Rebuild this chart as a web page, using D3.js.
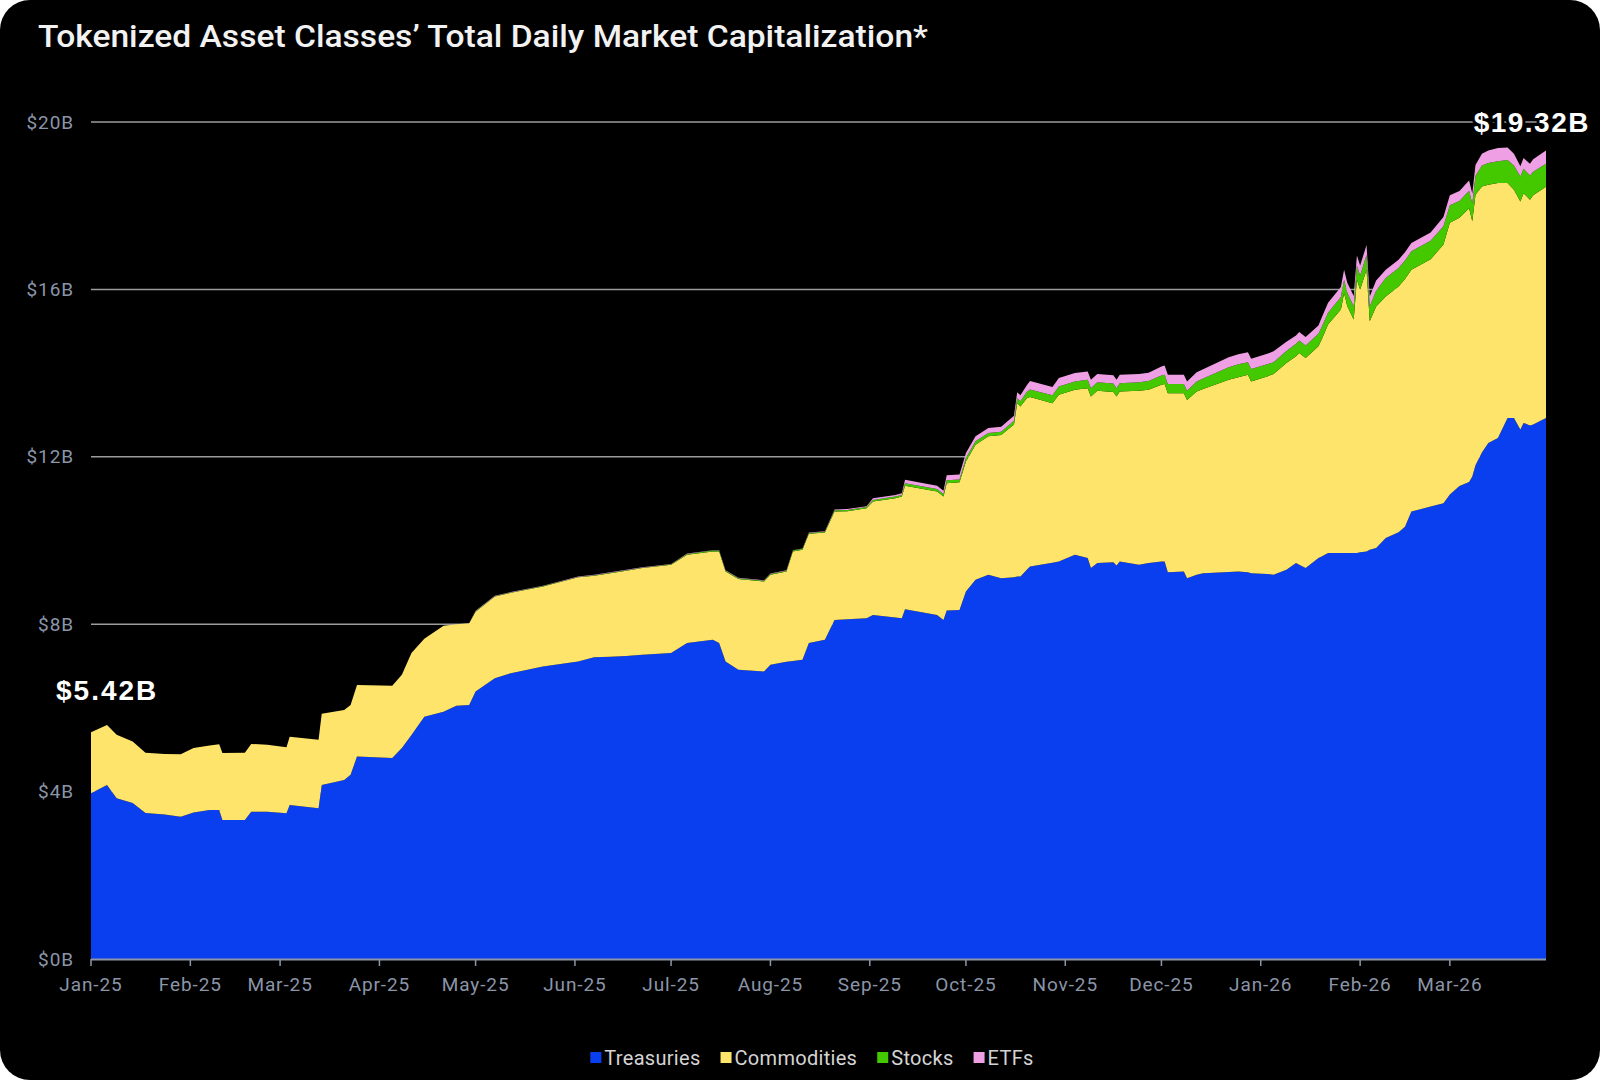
<!DOCTYPE html>
<html lang="en">
<head>
<meta charset="UTF-8">
<title>Tokenized Asset Classes' Total Daily Market Capitalization</title>
<script src="https://d3js.org/d3.v7.min.js"></script>
<style>
  body { margin: 0; background: #fff; }
  svg { display: block; }
  .tick-label { font-family: Roboto, "Noto Sans", sans-serif; font-size: 19px; fill: #8b95a8; letter-spacing: 0.9px; }
</style>
</head>
<body>
<script>
// values in $B
const dates = [
  "2025-01-01","2025-01-06","2025-01-09","2025-01-14","2025-01-18","2025-01-24","2025-01-29","2025-02-02","2025-02-07","2025-02-10",
  "2025-02-11","2025-02-18","2025-02-20","2025-02-25","2025-03-03","2025-03-04","2025-03-13","2025-03-14","2025-03-21","2025-03-23",
  "2025-03-25","2025-04-05","2025-04-08","2025-04-11","2025-04-15","2025-04-21","2025-04-25","2025-04-29","2025-05-01","2025-05-07",
  "2025-05-12","2025-05-22","2025-06-02","2025-06-07","2025-06-12","2025-06-17","2025-06-22","2025-07-01","2025-07-06","2025-07-14",
  "2025-07-16","2025-07-18","2025-07-22","2025-07-30","2025-08-01","2025-08-06","2025-08-08","2025-08-11","2025-08-13","2025-08-18",
  "2025-08-21","2025-08-25","2025-08-31","2025-09-02","2025-09-09","2025-09-11","2025-09-12","2025-09-22","2025-09-24","2025-09-25",
  "2025-09-29","2025-10-01","2025-10-04","2025-10-08","2025-10-12","2025-10-16","2025-10-17","2025-10-18","2025-10-20","2025-10-21",
  "2025-10-28","2025-10-30","2025-11-04","2025-11-08","2025-11-09","2025-11-11","2025-11-16","2025-11-17","2025-11-18","2025-11-24",
  "2025-11-27","2025-12-01","2025-12-02","2025-12-03","2025-12-08","2025-12-09","2025-12-12","2025-12-14","2025-12-22","2025-12-25",
  "2025-12-28","2025-12-29","2026-01-03","2026-01-05","2026-01-09","2026-01-12","2026-01-13","2026-01-15","2026-01-19","2026-01-20",
  "2026-01-22","2026-01-26","2026-01-27","2026-01-28","2026-01-30","2026-01-31","2026-02-01","2026-02-03","2026-02-04","2026-02-06",
  "2026-02-09","2026-02-13","2026-02-15","2026-02-17","2026-02-23","2026-02-27","2026-03-01","2026-03-04","2026-03-07","2026-03-08",
  "2026-03-09","2026-03-11","2026-03-13","2026-03-16","2026-03-19","2026-03-21","2026-03-23","2026-03-24","2026-03-26","2026-03-27",
  "2026-03-31"
];

const treasuries = [
  3.96,4.16,3.84,3.73,3.49,3.45,3.40,3.50,3.56,3.56,
  3.32,3.32,3.52,3.52,3.48,3.68,3.60,4.16,4.28,4.40,
  4.84,4.80,5.04,5.35,5.79,5.91,6.05,6.07,6.39,6.71,
  6.83,6.99,7.11,7.21,7.22,7.24,7.27,7.31,7.55,7.63,
  7.55,7.11,6.91,6.87,7.03,7.10,7.12,7.15,7.55,7.63,
  8.10,8.12,8.14,8.22,8.16,8.14,8.36,8.22,8.10,8.33,
  8.34,8.78,9.06,9.18,9.10,9.12,9.14,9.14,9.30,9.38,
  9.47,9.50,9.66,9.58,9.34,9.46,9.48,9.40,9.50,9.42,
  9.46,9.50,9.50,9.24,9.26,9.10,9.18,9.22,9.25,9.26,
  9.24,9.22,9.20,9.18,9.30,9.46,9.42,9.34,9.58,9.62,
  9.70,9.70,9.70,9.70,9.70,9.70,9.72,9.74,9.78,9.82,
  10.06,10.20,10.33,10.69,10.81,10.89,11.10,11.30,11.40,11.53,
  11.80,12.10,12.33,12.45,12.93,12.93,12.65,12.81,12.75,12.77,
  12.93
];

const commodities = [
  1.46,1.43,1.52,1.47,1.44,1.45,1.49,1.54,1.54,1.57,
  1.60,1.61,1.62,1.60,1.58,1.63,1.64,1.70,1.67,1.67,
  1.71,1.73,1.75,1.96,1.86,2.05,1.95,1.95,1.91,1.95,
  1.92,1.91,2.01,1.95,2.00,2.04,2.07,2.11,2.11,2.11,
  2.19,2.15,2.17,2.15,2.15,2.16,2.62,2.63,2.61,2.56,
  2.59,2.58,2.63,2.71,2.85,2.91,2.95,2.95,2.95,3.04,
  3.05,3.11,3.23,3.31,3.42,3.65,4.14,4.06,4.10,4.05,
  3.81,3.98,3.94,4.06,4.10,4.12,4.07,4.04,4.06,4.16,
  4.14,4.22,4.24,4.28,4.26,4.26,4.38,4.40,4.59,4.64,
  4.72,4.58,4.72,4.80,4.94,4.94,5.06,5.02,5.06,5.18,
  5.46,5.82,6.21,5.90,5.58,6.53,6.27,6.73,5.46,5.77,
  5.77,5.87,5.92,5.78,5.91,6.18,6.49,6.41,6.54,6.10,
  6.46,6.36,6.17,6.09,5.61,5.45,5.45,5.49,5.39,5.48,
  5.52
];

const stocks = [
  0,0,0,0,0,0,0,0,0,0,
  0,0,0,0,0,0,0,0,0,0,
  0,0,0,0,0,0,0,0,0.01,0.01,
  0.01,0.01,0.01,0.01,0.01,0.01,0.01,0.01,0.02,0.02,
  0.02,0.02,0.02,0.02,0.02,0.02,0.02,0.02,0.02,0.02,
  0.03,0.03,0.03,0.04,0.04,0.04,0.06,0.06,0.06,0.07,
  0.07,0.08,0.08,0.08,0.08,0.09,0.12,0.13,0.15,0.18,
  0.19,0.20,0.20,0.20,0.20,0.20,0.20,0.20,0.20,0.20,
  0.21,0.22,0.22,0.22,0.22,0.22,0.24,0.25,0.30,0.31,
  0.30,0.30,0.29,0.28,0.29,0.30,0.30,0.30,0.30,0.30,
  0.28,0.30,0.32,0.32,0.32,0.34,0.34,0.35,0.35,0.38,
  0.44,0.44,0.44,0.44,0.44,0.44,0.42,0.40,0.42,0.42,
  0.45,0.50,0.52,0.52,0.55,0.58,0.60,0.58,0.58,0.56,
  0.55
];

const etfs = [
  0,0,0,0,0,0,0,0,0,0,
  0,0,0,0,0,0,0,0,0,0,
  0,0,0,0,0,0,0,0,0.01,0.01,
  0.01,0.01,0.01,0.01,0.01,0.01,0.01,0.01,0.01,0.01,
  0.01,0.01,0.01,0.01,0.01,0.01,0.01,0.01,0.01,0.01,
  0.02,0.02,0.02,0.04,0.04,0.04,0.08,0.08,0.08,0.12,
  0.12,0.12,0.12,0.12,0.12,0.12,0.14,0.14,0.16,0.20,
  0.20,0.20,0.20,0.20,0.20,0.20,0.20,0.20,0.20,0.20,
  0.20,0.22,0.22,0.22,0.22,0.22,0.22,0.22,0.24,0.24,
  0.24,0.24,0.25,0.26,0.22,0.20,0.20,0.20,0.20,0.22,
  0.24,0.24,0.24,0.24,0.24,0.24,0.24,0.24,0.24,0.24,
  0.20,0.20,0.20,0.20,0.20,0.22,0.24,0.24,0.24,0.24,
  0.26,0.28,0.30,0.32,0.30,0.28,0.24,0.26,0.28,0.30,
  0.32
];

const seriesNames = ["Treasuries", "Commodities", "Stocks", "ETFs"];
const seriesColors = ["#0a3ff0", "#ffe46c", "#44c800", "#ef9fe3"];
const yTicks = [0, 4, 8, 12, 16, 20];
const xTickDates = ["2025-01-01","2025-02-01","2025-03-01","2025-04-01","2025-05-01","2025-06-01","2025-07-01",
                    "2025-08-01","2025-09-01","2025-10-01","2025-11-01","2025-12-01","2026-01-01","2026-02-01","2026-03-01"];
const title = "Tokenized Asset Classes\u2019 Total Daily Market Capitalization*";
const startLabel = "$5.42B";
const endLabel = "$19.32B";

const width = 1600, height = 1080;
const margin = { top: 122, right: 54, bottom: 121, left: 91 };

const parse = d3.timeParse("%Y-%m-%d");
const rows = dates.map((d, i) => ({
  date: parse(d),
  Treasuries: treasuries[i],
  Commodities: commodities[i],
  Stocks: stocks[i],
  ETFs: etfs[i]
}));

const svg = d3.select("body").append("svg")
  .attr("width", width)
  .attr("height", height);

// black card with rounded corners
svg.append("rect")
  .attr("width", width).attr("height", height)
  .attr("rx", 30).attr("ry", 30)
  .attr("fill", "#000");

const x = d3.scaleTime()
  .domain(d3.extent(rows, d => d.date))
  .range([margin.left, width - margin.right]);

const y = d3.scaleLinear()
  .domain([0, 20])
  .range([height - margin.bottom, margin.top]);

// gridlines
svg.append("g")
  .selectAll("line")
  .data(yTicks.filter(t => t > 0))
  .join("line")
  .attr("x1", margin.left)
  .attr("x2", width - margin.right)
  .attr("y1", d => y(d))
  .attr("y2", d => y(d))
  .attr("stroke", "#9c9c9c")
  .attr("stroke-width", 1.5);

// stacked areas
const stacked = d3.stack().keys(seriesNames)(rows);
const area = d3.area()
  .x(d => x(d.data.date))
  .y0(d => y(d[0]))
  .y1(d => y(d[1]));

svg.append("g")
  .selectAll("path")
  .data(stacked)
  .join("path")
  .attr("fill", (d, i) => seriesColors[i])
  .attr("d", area);

// y labels
svg.append("g")
  .selectAll("text")
  .data(yTicks)
  .join("text")
  .attr("class", "tick-label")
  .attr("x", margin.left - 17)
  .attr("y", d => y(d))
  .attr("dy", "0.35em")
  .attr("text-anchor", "end")
  .text(d => `$${d}B`);

// x axis
const xAxis = svg.append("g");
xAxis.append("line")
  .attr("x1", margin.left).attr("x2", width - margin.right)
  .attr("y1", y(0) + 0.5).attr("y2", y(0) + 0.5)
  .attr("stroke", "#8d97a8").attr("stroke-width", 2);

const xTicks = xTickDates.map(parse);
xAxis.selectAll(".tk")
  .data(xTicks)
  .join("line")
  .attr("class", "tk")
  .attr("x1", d => x(d)).attr("x2", d => x(d))
  .attr("y1", y(0)).attr("y2", y(0) + 7)
  .attr("stroke", "#8d97a8").attr("stroke-width", 1.5);

xAxis.selectAll("text")
  .data(xTicks)
  .join("text")
  .attr("class", "tick-label")
  .attr("x", d => x(d))
  .attr("y", y(0) + 32)
  .attr("text-anchor", "middle")
  .text(d => d3.timeFormat("%b-%y")(d));

// title
svg.append("text")
  .attr("x", 38)
  .attr("y", 47)
  .attr("fill", "#f2f2f2")
  .attr("font-family", "Roboto, 'Noto Sans', sans-serif")
  .attr("font-weight", 500)
  .attr("font-size", 32)
  .attr("textLength", 890)
  .attr("lengthAdjust", "spacingAndGlyphs")
  .text(title);

// start / end value labels
const first = rows[0], last = rows[rows.length - 1];
const total = d => seriesNames.reduce((s, k) => s + d[k], 0);

svg.append("text")
  .attr("x", x(first.date) - 35)
  .attr("y", y(total(first)) - 32)
  .attr("fill", "#fff")
  .attr("font-family", "'Liberation Sans', Arial, sans-serif")
  .attr("font-weight", 700)
  .attr("font-size", 28)
  .attr("letter-spacing", 2)
  .text(startLabel);

svg.append("text")
  .attr("x", x(last.date) + 44)
  .attr("y", y(20) + 10)
  .attr("text-anchor", "end")
  .attr("fill", "#fff")
  .attr("stroke", "#000")
  .attr("stroke-width", 6)
  .attr("paint-order", "stroke")
  .attr("font-family", "'Liberation Sans', Arial, sans-serif")
  .attr("font-weight", 700)
  .attr("font-size", 28)
  .attr("letter-spacing", 1.5)
  .text(endLabel);

// legend
const legend = svg.append("g");
let lx = 0;
seriesNames.forEach((name, i) => {
  const g = legend.append("g").attr("transform", `translate(${lx},0)`);
  g.append("rect")
    .attr("x", 0).attr("y", -6)
    .attr("width", 11).attr("height", 11)
    .attr("fill", seriesColors[i]);
  const t = g.append("text")
    .attr("x", 14)
    .attr("dy", "0.35em")
    .attr("fill", "#d4d4d4")
    .attr("font-family", "Roboto, 'Noto Sans', sans-serif")
    .attr("font-size", 20)
    .attr("letter-spacing", 0.3)
    .text(name);
  lx += 14 + t.node().getComputedTextLength() + 20;
});
const legendWidth = lx - 20;
legend.attr("transform", `translate(${812 - legendWidth / 2},1058)`);
</script>
</body>
</html>
